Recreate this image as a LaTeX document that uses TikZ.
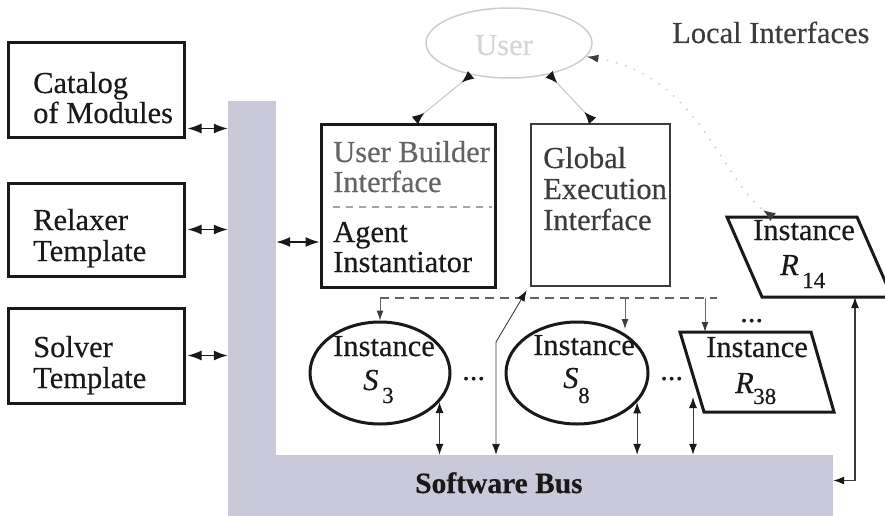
\documentclass[tikz,border=0pt]{standalone}
\usepackage{fontspec}
\setmainfont{Liberation Serif}[FakeBold=0.35]
\usetikzlibrary{arrows.meta,shapes.geometric}
\definecolor{busgray}{RGB}{201,201,217}
\definecolor{ink}{RGB}{25,25,25}
\definecolor{midgray}{RGB}{100,100,100}
\definecolor{darkgraytwo}{RGB}{60,60,60}
\definecolor{faintgray}{RGB}{205,205,211}
\definecolor{ghost}{RGB}{212,212,218}
\begin{document}
\begin{tikzpicture}[x=1pt,y=-1pt,
  txt/.style={inner sep=0pt,anchor=base west,font=\fontsize{30.5}{30}\selectfont,text=ink},
  subs/.style={inner sep=0pt,anchor=base west,font=\fontsize{23}{23}\selectfont,text=ink},
  box/.style={draw=ink,line width=3pt,inner sep=0pt},
  inst/.style={ellipse,draw=ink,line width=3pt,inner sep=0pt,minimum width=140pt,minimum height=102pt},
  para/.style={draw=ink,line width=3pt,line join=miter},
  busfill/.style={fill=busgray,inner sep=0pt},
  boxlink/.style={{Latex[length=14pt,width=10pt]}-{Latex[length=14pt,width=10pt]},line width=1.4pt,draw=ink},
  instlink/.style={{Latex[length=11pt,width=8pt,color=ink]}-{Latex[length=11pt,width=8pt,color=ink]},line width=1pt,draw=darkgraytwo},
  droplink/.style={-{Latex[length=10pt,width=7pt,color=darkgraytwo]},line width=1pt,draw=midgray},
  dashlink/.style={dash pattern=on 9pt off 6pt,line width=1.3pt,draw=midgray},
  userlink/.style={{Latex[reversed,length=12pt,width=10pt,color=ink]}-{Latex[reversed,length=12pt,width=10pt,color=ink]},line width=1.2pt,draw=faintgray},
  locallink/.style={{Latex[length=12pt,width=8pt,color=darkgraytwo]}-{Latex[reversed,length=12pt,width=10pt,color=darkgraytwo]},line width=1.5pt,draw=faintgray,dash pattern=on 1.5pt off 8pt},
]
\useasboundingbox (0,0) rectangle (885,516);

% gray L-shaped bus
\node[busfill,minimum width=48pt,minimum height=415pt] (vbar) at (252,308.5) {};
\node[busfill,minimum width=605pt,minimum height=61pt] (bus) at (530.5,485.5) {};
\node[txt,font=\bfseries\fontsize{29.5}{30}\selectfont] (busT) at (415,493) {Software Bus};

% left boxes
\node[box,minimum width=176pt,minimum height=94pt] (cat) at (96,90) {};
\node[txt] (catA) at (33,93) {Catalog};
\node[txt] (catB) at (33,123) {of Modules};
\node[box,minimum width=176pt,minimum height=93pt] (rel) at (96,229.5) {};
\node[txt] (relA) at (33,230) {Relaxer};
\node[txt] (relB) at (33,261) {Template};
\node[box,minimum width=176pt,minimum height=95pt] (sol) at (96,355.5) {};
\node[txt] (solA) at (33,357) {Solver};
\node[txt] (solB) at (33,388) {Template};

\coordinate (catP) at ([yshift=10pt]cat.south east);
\draw[boxlink] ([xshift=2pt]catP) -- (catP -| vbar.west);
\draw[boxlink] ([xshift=2pt]rel.east) -- (rel.east -| vbar.west);
\draw[boxlink] ([xshift=2pt]sol.east) -- (sol.east -| vbar.west);

% user
\node[ellipse,draw=faintgray,line width=1.5pt,minimum width=166pt,minimum height=70pt,inner sep=0pt] (user) at (509,43) {};
\node[txt,text=ghost] (userT) at (475,55) {User};
\node[txt,text=darkgraytwo] (localT) at (672,43) {Local Interfaces};

% user builder / agent instantiator
\node[box,minimum width=174pt,minimum height=163pt] (ub) at (408,205.5) {};
\node[txt,text=midgray] (ubA) at (333,162) {User Builder};
\node[txt,text=midgray] (ubB) at (333,192) {Interface};
\coordinate (sepL) at (333,207);
\coordinate (sepR) at (492,207);
\draw[draw=faintgray!80!black,line width=1.2pt,dash pattern=on 7pt off 6pt] (sepL) -- (sepR);
\node[txt] (agA) at (333,242) {Agent};
\node[txt] (agB) at (333,272) {Instantiator};
\coordinate (agentY) at (408,242);
\draw[boxlink] (agentY -| vbar.east) -- (agentY -| ub.west);

% global execution interface
\node[draw=darkgraytwo,line width=2.5pt,inner sep=0pt,minimum width=139pt,minimum height=162pt] (ge) at (600.5,205) {};
\node[txt,text=darkgraytwo] (geA) at (543,168) {Global};
\node[txt,text=darkgraytwo] (geB) at (543,199) {Execution};
\node[txt,text=darkgraytwo] (geC) at (543,230) {Interface};

\draw[userlink] (user.220) -- ([xshift=7pt,yshift=2pt]ub.north);
\draw[userlink] (user.-38) -- ([xshift=-8pt,yshift=2pt]ge.north);

% instance R14
\coordinate (r14tl) at (727,217);
\coordinate (r14tr) at (857,217);
\coordinate (r14br) at (892,297);
\coordinate (r14bl) at (762,297);
\draw[para] (r14tl) -- (r14tr) -- (r14br) -- (r14bl) -- cycle;
\node[txt] (r14A) at (753,240) {Instance};
\node[txt,font=\itshape\fontsize{30.5}{30}\selectfont] (r14B) at (780,275) {R};
\node[subs] (r14C) at (802,288) {14};
\coordinate (r14top) at (773,217);
\coordinate (r14b) at (855,297);
\draw[locallink] (user.-10) .. controls (700,75) and (720,180) .. (r14top);

% instance ellipses
\node[inst] (s3) at (380,373) {};
\node[txt] (s3A) at (333,356) {Instance};
\node[txt,font=\itshape\fontsize{30.5}{30}\selectfont] (s3B) at (363,390) {S};
\node[subs] (s3C) at (382,403) {3};
\node[inst,minimum width=142pt] (s8) at (577,373) {};
\node[txt] (s8A) at (533,355) {Instance};
\node[txt,font=\itshape\fontsize{30.5}{30}\selectfont] (s8B) at (563,388) {S};
\node[subs] (s8C) at (578,403) {8};

% instance R38
\coordinate (r38tl) at (680,332);
\coordinate (r38tr) at (811,332);
\coordinate (r38br) at (834,412);
\coordinate (r38bl) at (704,412);
\draw[para] (r38tl) -- (r38tr) -- (r38br) -- (r38bl) -- cycle;
\node[txt] (r38A) at (706,357) {Instance};
\node[txt,font=\itshape\fontsize{30.5}{30}\selectfont] (r38B) at (735,393) {R};
\node[subs] (r38C) at (753,404) {38};

% ellipses
\node[txt] (dotsA) at (462,380) {...};
\node[txt] (dotsB) at (660,380) {...};
\node[txt] (dotsC) at (740,322) {...};

% dashed instantiation line
\coordinate (dl) at (380,298);
\coordinate (dr) at (717,298);
\draw[dashlink] (dl) -- (dr);
\draw[droplink] (dl) -- (s3.north);
\coordinate (s8t) at (625,329);
\draw[droplink] (s8t |- dl) -- (s8t);
\coordinate (r38t) at (705,332);
\draw[droplink] (r38t |- dl) -- (r38t);

% links to the software bus
\draw[instlink] (s3.-26) -- (s3.-26 |- bus.north);
\draw[instlink] (s8.-26) -- (s8.-26 |- bus.north);
\coordinate (r38a) at (693,397);
\draw[instlink] (r38a) -- (r38a |- bus.north);
\coordinate (gebend) at (496,342);
\draw[instlink,line width=0.9pt] (gebend |- bus.north) -- (gebend) -- ([xshift=-3pt,yshift=-3pt]ge.south west);
\coordinate (busR) at ([yshift=5pt]bus.east);
\draw[instlink,line width=1.3pt] (r14b) |- (busR);
\end{tikzpicture}
\end{document}
